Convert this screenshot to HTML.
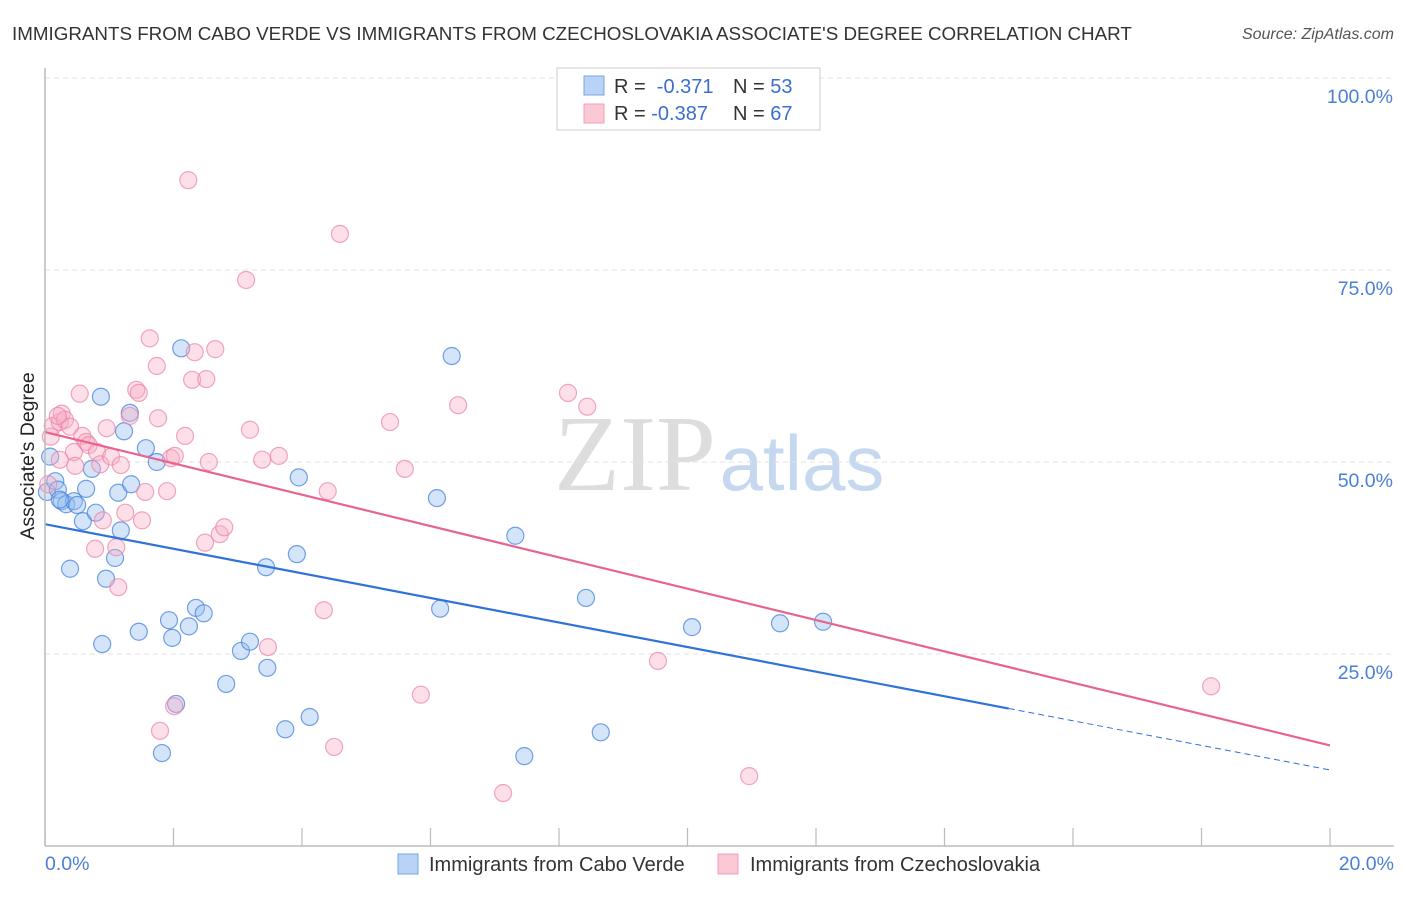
<!DOCTYPE html>
<html><head><meta charset="utf-8"><style>
body{margin:0;background:#fff;font-family:"Liberation Sans",sans-serif}
</style></head><body>
<svg id="c" width="1406" height="892" xmlns="http://www.w3.org/2000/svg">
<text x="12" y="40" font-size="18.8" fill="#333">IMMIGRANTS FROM CABO VERDE VS IMMIGRANTS FROM CZECHOSLOVAKIA ASSOCIATE'S DEGREE CORRELATION CHART</text>
<text x="1394" y="39" font-size="16" fill="#555" font-style="italic" text-anchor="end">Source: ZipAtlas.com</text>
<text x="635" y="490" font-size="108" fill="#ddd" font-family="Liberation Serif,serif" text-anchor="middle">ZIP</text>
<text x="802" y="490" font-size="78" fill="#c6d8ef" text-anchor="middle">atlas</text>
<text transform="translate(34,456) rotate(-90)" font-size="19.5" fill="#222" text-anchor="middle">Associate's Degree</text>
<g id="grid"></g><g id="marks"></g><g id="trend"></g>
<line x1="45" y1="846" x2="1394" y2="846" stroke="#bbb" stroke-width="1.5"/>
<line x1="45" y1="68" x2="45" y2="846" stroke="#bbb" stroke-width="1.5"/>
<text x="45" y="870" font-size="19.5" fill="#4a7fd4">0.0%</text>
<text x="1394" y="870" font-size="19.5" fill="#4a7fd4" text-anchor="end">20.0%</text>
<g>
<rect x="398" y="854" width="20" height="20" fill="#b8d3f5" stroke="#7aa6e0"/>
<text x="429" y="871" font-size="20" fill="#333">Immigrants from Cabo Verde</text>
<rect x="718" y="854" width="20" height="20" fill="#fbc8d6" stroke="#eea3b8"/>
<text x="750" y="871" font-size="20" fill="#333">Immigrants from Czechoslovakia</text>
</g>
<g>
<rect x="557" y="68" width="263" height="62" fill="#fff" stroke="#ccc"/>
<rect x="584" y="76" width="20" height="19" fill="#b8d3f5" stroke="#7aa6e0"/>
<rect x="584" y="104" width="20" height="19" fill="#fbc8d6" stroke="#eea3b8"/>
<text x="614" y="93" font-size="20" fill="#333">R = <tspan fill="#3a6fd0">&#160;-0.371</tspan><tspan x="733">N = </tspan><tspan fill="#3a6fd0">53</tspan></text>
<text x="614" y="120" font-size="20" fill="#333">R = <tspan fill="#3a6fd0">-0.387</tspan><tspan x="733">N = </tspan><tspan fill="#3a6fd0">67</tspan></text>
</g>
</svg>
<script>
const yTicks=[25,50,75,100];
const xTicks=[0,2,4,6,8,10,12,14,16,18,20];
const blueX=[0.03,0.08,0.16,0.20,0.26,0.33,0.45,0.50,0.39,0.59,0.64,0.73,0.79,0.87,0.89,0.95,1.09,1.14,1.18,1.23,1.34,1.32,1.46,1.57,1.74,1.82,1.93,1.98,2.04,2.12,2.24,2.35,2.47,2.82,3.05,3.19,3.44,3.46,3.74,3.92,3.95,4.12,6.10,6.15,6.33,7.32,7.46,8.42,8.65,10.07,11.44,12.11,0.23];
const blueY=[46.1,50.7,47.5,46.4,44.9,44.5,44.9,44.4,36.1,42.3,46.5,49.1,43.4,58.5,26.3,34.8,37.5,46.0,41.1,54.0,47.1,56.4,27.9,51.8,50.0,12.1,29.4,27.1,18.5,64.8,28.6,31.0,30.3,21.1,25.4,26.6,36.3,23.2,15.2,38.0,48.0,16.8,45.3,30.9,63.8,40.4,11.7,32.3,14.8,28.5,29.0,29.2,45.1];
const pinkX=[0.09,0.12,0.23,0.26,0.31,0.39,0.45,0.47,0.54,0.58,0.64,0.68,0.78,0.81,0.86,0.90,0.96,1.03,1.11,1.14,1.18,1.25,1.51,1.42,1.46,1.56,1.63,1.74,1.76,1.90,1.96,2.02,2.18,2.23,2.29,2.33,2.49,2.51,2.55,2.65,2.72,2.79,2.01,1.79,3.13,3.19,3.38,3.47,3.64,4.34,4.40,4.50,4.59,5.37,5.60,5.85,6.43,7.13,8.14,8.44,9.54,10.96,18.15,0.05,0.20,1.32,0.23];
const pinkY=[53.3,54.7,55.2,56.3,55.5,54.6,51.3,49.5,58.9,53.4,52.6,52.2,38.7,51.3,49.7,42.4,54.4,50.7,38.9,33.7,49.6,43.4,42.4,59.4,59.0,46.1,66.1,62.5,55.7,46.2,50.5,50.8,53.4,86.7,60.7,64.3,39.5,60.8,50.0,64.7,40.6,41.5,18.2,15.0,73.7,54.2,50.3,25.9,50.8,30.7,46.2,12.9,79.7,55.2,49.1,19.7,57.4,6.9,59.0,57.2,24.1,9.1,20.8,47.1,56.0,56.0,50.3];
const blueTrend=[41.9,9.9];
const pinkTrend=[53.9,13.1];
const blueSolidEnd=15.0;
const NS="http://www.w3.org/2000/svg";
const sx=v=>45+v/20*1285, sy=v=>846-v/100*768;
function mk(tag,attrs,parent){const e=document.createElementNS(NS,tag);for(const k in attrs)e.setAttribute(k,attrs[k]);parent.appendChild(e);return e;}
const grid=document.getElementById('grid'),marks=document.getElementById('marks'),trend=document.getElementById('trend'),svg=document.getElementById('c');
yTicks.forEach(t=>{
  const l=mk('line',{x1:45,x2:1394,y1:sy(t),y2:sy(t),stroke:'#e2e2e2','stroke-dasharray':'5,4'},grid);
  
  
  const tx=mk('text',{x:1393,y:sy(t)+25,'font-size':19.5,fill:'#4a7fd4','text-anchor':'end'},svg);
  tx.textContent=t.toFixed(1)+'%';
  
  
});
xTicks.forEach(t=>{
  const l=mk('line',{x1:sx(t),x2:sx(t),y1:828,y2:846,stroke:'#bbb','stroke-width':1.2},grid);
  
  
});
function pts(X,Y,fill,stroke,name){
  X.forEach((x,i)=>{
    const c=mk('circle',{cx:sx(x),cy:sy(Y[i]),r:8.5,fill:fill,stroke:stroke,'stroke-width':1.2},marks);
    
    
  });
}
pts(blueX,blueY,'rgba(150,190,240,0.4)','rgba(70,130,220,0.75)','cabo-verde-point');
pts(pinkX,pinkY,'rgba(248,175,198,0.4)','rgba(235,130,165,0.7)','czechoslovakia-point');
const yAt=(tr,x)=>tr[0]+(tr[1]-tr[0])*x/20;
let l=mk('line',{x1:sx(0),y1:sy(yAt(blueTrend,0)),x2:sx(blueSolidEnd),y2:sy(yAt(blueTrend,blueSolidEnd)),stroke:'#2f72d8','stroke-width':2.2},trend);


l=mk('line',{x1:sx(blueSolidEnd),y1:sy(yAt(blueTrend,blueSolidEnd)),x2:sx(20),y2:sy(yAt(blueTrend,20)),stroke:'#2f72d8','stroke-width':1,'stroke-dasharray':'6,4'},trend);


l=mk('line',{x1:sx(0),y1:sy(pinkTrend[0]),x2:sx(20),y2:sy(pinkTrend[1]),stroke:'#e8648f','stroke-width':2.2},trend);


</script>
</body></html>
